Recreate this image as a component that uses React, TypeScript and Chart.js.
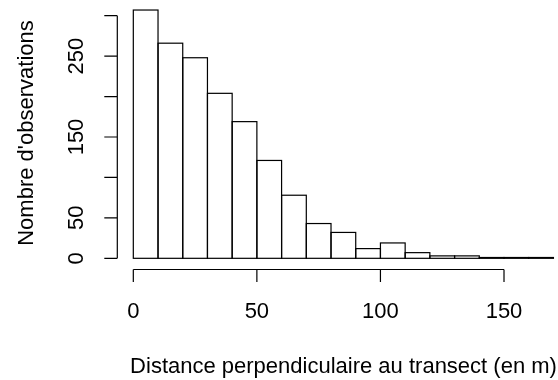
import React, { useEffect, useRef } from "react";
import { Chart, registerables } from "chart.js";

Chart.register(...registerables);

// Histogram of perpendicular distances, 10 m bins
const BIN_WIDTH = 10;
const binStarts = [0, 10, 20, 30, 40, 50, 60, 70, 80, 90, 100, 110, 120, 130, 140, 150, 160];
const counts = [307, 266, 248, 204, 169, 121, 78, 43, 32, 12, 19, 7, 3, 3, 1, 1, 1];

const xTicks = [0, 50, 100, 150];
const xTickLabels = ["0", "50", "100", "150"];
const yTicks = [0, 50, 100, 150, 200, 250, 300];
const yTickLabels = ["0", "50", "", "150", "", "250", ""];

const xTitle = "Distance perpendiculaire au transect (en m)";
const yTitle = "Nombre d'observations";

const FONT = '"Liberation Sans", Arial, sans-serif';
const INK = "#000";
const LINE_W = 1.2;

// R-style axes and bar outlines drawn on top of the library's scales
const baseGraphicsPlugin = {
  id: "baseGraphics",
  afterDatasetsDraw(chart: any) {
    const ctx = chart.ctx;
    const meta = chart.getDatasetMeta(0);
    ctx.save();
    ctx.strokeStyle = INK;
    ctx.lineWidth = LINE_W;
    meta.data.forEach((el: any) => {
      const { x, y, base, width } = el.getProps(["x", "y", "base", "width"], true);
      ctx.strokeRect(x - width / 2, y, width, base - y);
    });
    ctx.restore();
  },
  afterDraw(chart: any) {
    const ctx = chart.ctx;
    const xs = chart.scales.x;
    const ys = chart.scales.y;
    const area = chart.chartArea;
    const axisY = area.bottom + 1;
    const axisX = area.left + 0.3;
    const tickLen = 12.5;

    ctx.save();
    ctx.strokeStyle = INK;
    ctx.fillStyle = INK;
    ctx.lineWidth = LINE_W;

    // bottom axis
    const x0 = xs.getPixelForValue(xTicks[0]);
    const x1 = xs.getPixelForValue(xTicks[xTicks.length - 1]);
    ctx.beginPath();
    ctx.moveTo(x0, axisY);
    ctx.lineTo(x1, axisY);
    xTicks.forEach((v) => {
      const px = xs.getPixelForValue(v);
      ctx.moveTo(px, axisY);
      ctx.lineTo(px, axisY + tickLen);
    });
    ctx.stroke();

    ctx.font = `22px ${FONT}`;
    ctx.textAlign = "center";
    ctx.textBaseline = "alphabetic";
    xTicks.forEach((v, i) => {
      ctx.fillText(xTickLabels[i], xs.getPixelForValue(v), axisY + 48.7);
    });

    // left axis
    const y0 = ys.getPixelForValue(yTicks[0]);
    const y1 = ys.getPixelForValue(yTicks[yTicks.length - 1]);
    ctx.beginPath();
    ctx.moveTo(axisX, y0);
    ctx.lineTo(axisX, y1);
    yTicks.forEach((v) => {
      const py = ys.getPixelForValue(v);
      ctx.moveTo(axisX, py);
      ctx.lineTo(axisX - tickLen - 0.5, py);
    });
    ctx.stroke();

    yTicks.forEach((v, i) => {
      const label = yTickLabels[i];
      if (!label) return;
      ctx.save();
      ctx.translate(axisX - 34, ys.getPixelForValue(v));
      ctx.rotate(-Math.PI / 2);
      ctx.fillText(label, 0, 0);
      ctx.restore();
    });

    // axis titles
    ctx.fillText(xTitle, 343.5, 372.5);
    ctx.save();
    ctx.translate(33.3, 133);
    ctx.rotate(-Math.PI / 2);
    ctx.fillText(yTitle, 0, 0);
    ctx.restore();

    ctx.restore();
  },
};

export default function App() {
  const canvasRef = useRef<HTMLCanvasElement | null>(null);

  useEffect(() => {
    const canvas = canvasRef.current;
    if (!canvas) return;
    const chart = new Chart(canvas, {
      type: "bar",
      data: {
        datasets: [
          {
            data: binStarts.map((s, i) => ({ x: s + BIN_WIDTH / 2, y: counts[i] })),
            backgroundColor: "#fff",
            borderWidth: 0,
            barPercentage: 1,
            categoryPercentage: 1,
          },
        ],
      },
      options: {
        animation: false,
        responsive: false,
        devicePixelRatio: 1,
        layout: { padding: { left: 117, right: 0, top: 0, bottom: 111.5 } },
        plugins: {
          legend: { display: false },
          tooltip: { enabled: false },
        },
        scales: {
          x: { type: "linear", offset: false, min: -6.6, max: 171.85, display: false },
          y: { type: "linear", min: -12.6, max: 319.4, display: false },
        },
      },
      plugins: [baseGraphicsPlugin],
    });
    return () => chart.destroy();
  }, []);

  return (
    <div style={{ position: "absolute", left: 0, top: 0, width: 558, height: 380, background: "#fff" }}>
      <canvas ref={canvasRef} width={558} height={380} style={{ display: "block" }} />
    </div>
  );
}
